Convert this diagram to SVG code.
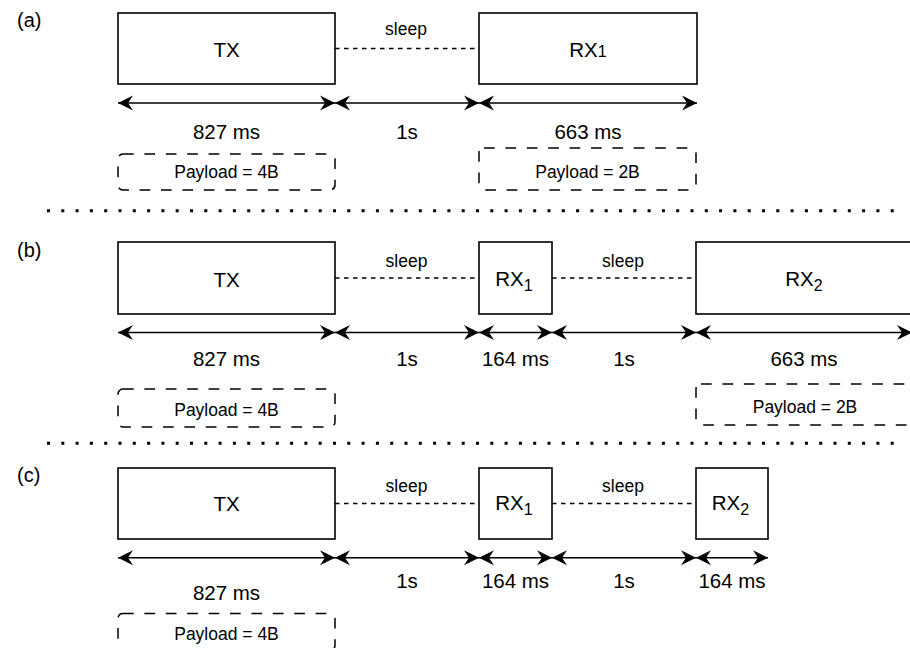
<svg xmlns="http://www.w3.org/2000/svg" width="910" height="648" viewBox="0 0 910 648">
<style>
.box{fill:#fff;stroke:#000;stroke-width:1.6}
.pay{fill:none;stroke:#000;stroke-width:1.5;stroke-dasharray:10.7 10.7}
.arr{stroke:#000;stroke-width:1.6;fill:none;marker-start:url(#ah);marker-end:url(#ah)}
.slp{stroke:#000;stroke-width:1.4;stroke-dasharray:4.5 4.5;fill:none}
.sep{stroke:#000;stroke-width:3;stroke-dasharray:3 11.3;fill:none}
text{font-family:"Liberation Sans",Arial,sans-serif;fill:#000}
.big{font-size:20.5px;text-anchor:middle}
.mid{font-size:17.5px;text-anchor:middle}
.lbl{font-size:20px}
</style>
<defs>
<marker id="ah" viewBox="-16 -8 17 16" refX="0" refY="0" markerWidth="17" markerHeight="16" markerUnits="userSpaceOnUse" orient="auto-start-reverse">
<path d="M0,0 L-15,-7.5 L-10,0 L-15,7.5 Z" fill="#000"/>
</marker>
</defs>

<!-- separators -->
<line class="sep" x1="47" y1="210.7" x2="905" y2="210.7"/>
<line class="sep" x1="47" y1="443.3" x2="905" y2="443.3"/>

<text class="lbl" x="17" y="27">(a)</text>
<text class="lbl" x="17" y="257">(b)</text>
<text class="lbl" x="17" y="482">(c)</text>

<!-- (a) -->
<g id="a-tx"><rect class="box" x="118" y="13" width="217" height="71"/><text class="big" x="226.5" y="57">TX</text></g>
<g id="a-rx1"><rect class="box" x="479" y="13" width="218" height="71"/><text class="big" x="588" y="57">RX<tspan font-size="16">1</tspan></text></g>
<g id="a-pay1"><rect class="pay" x="118" y="154" width="217" height="36" rx="5"/><text class="mid" x="226.5" y="178">Payload = 4B</text></g>
<g id="a-pay2"><rect class="pay" x="479" y="148" width="217" height="42" rx="5"/><text class="mid" x="587.5" y="178">Payload = 2B</text></g>
<text class="mid" x="406" y="35">sleep</text>
<text class="big" x="226.5" y="138.7">827 ms</text>
<text class="big" x="407" y="138.7">1s</text>
<text class="big" x="588" y="138.7">663 ms</text>

<!-- (b) -->
<g id="b-tx"><rect class="box" x="118" y="242" width="217" height="72"/><text class="big" x="226.5" y="287">TX</text></g>
<g id="b-rx1"><rect class="box" x="479" y="242" width="73" height="72"/><text class="big" x="514" y="285.5">RX<tspan font-size="16" dy="5">1</tspan></text></g>
<g id="b-rx2"><rect class="box" x="696" y="242" width="218" height="72"/><text class="big" x="804" y="285.5">RX<tspan font-size="16" dy="5">2</tspan></text></g>
<g id="b-pay1"><rect class="pay" x="118" y="389" width="217" height="38" rx="5"/><text class="mid" x="226.5" y="416">Payload = 4B</text></g>
<g id="b-pay2"><rect class="pay" x="696" y="384" width="218" height="41" rx="5"/><text class="mid" x="805" y="412.7">Payload = 2B</text></g>
<text class="mid" x="406.5" y="267">sleep</text>
<text class="mid" x="623" y="267">sleep</text>
<text class="big" x="226.5" y="366.2">827 ms</text>
<text class="big" x="407" y="366.2">1s</text>
<text class="big" x="515.5" y="366.2">164 ms</text>
<text class="big" x="624" y="366.2">1s</text>
<text class="big" x="804" y="366.2">663 ms</text>

<!-- (c) -->
<g id="c-tx"><rect class="box" x="118" y="468" width="217" height="71"/><text class="big" x="226.5" y="510.5">TX</text></g>
<g id="c-rx1"><rect class="box" x="479" y="468" width="73" height="71"/><text class="big" x="514" y="510">RX<tspan font-size="16" dy="5">1</tspan></text></g>
<g id="c-rx2"><rect class="box" x="696" y="468" width="72" height="71"/><text class="big" x="730.5" y="510">RX<tspan font-size="16" dy="5">2</tspan></text></g>
<g id="c-pay1"><rect class="pay" x="118" y="613.5" width="217" height="37" rx="5"/><text class="mid" x="226.5" y="640">Payload = 4B</text></g>
<text class="mid" x="406.5" y="492">sleep</text>
<text class="mid" x="623" y="492">sleep</text>
<text class="big" x="226.5" y="600.2">827 ms</text>
<text class="big" x="407" y="588.2">1s</text>
<text class="big" x="515.5" y="588.2">164 ms</text>
<text class="big" x="624" y="588.2">1s</text>
<text class="big" x="732" y="588.2">164 ms</text>

<g id="connectors">
<line class="slp" x1="335" y1="48.5" x2="479" y2="48.5"/>
<line class="arr" x1="118" y1="103" x2="335" y2="103"/>
<line class="arr" x1="335" y1="103" x2="479" y2="103"/>
<line class="arr" x1="479" y1="103" x2="697" y2="103"/>

<line class="slp" x1="335" y1="278" x2="479" y2="278"/>
<line class="slp" x1="552" y1="278" x2="696" y2="278"/>
<line class="arr" x1="118" y1="332.5" x2="335" y2="332.5"/>
<line class="arr" x1="335" y1="332.5" x2="479" y2="332.5"/>
<line class="arr" x1="479" y1="332.5" x2="552" y2="332.5"/>
<line class="arr" x1="552" y1="332.5" x2="696" y2="332.5"/>
<line class="arr" x1="696" y1="332.5" x2="912" y2="332.5"/>

<line class="slp" x1="335" y1="503.5" x2="479" y2="503.5"/>
<line class="slp" x1="552" y1="503.5" x2="696" y2="503.5"/>
<line class="arr" x1="118" y1="557.7" x2="335" y2="557.7"/>
<line class="arr" x1="335" y1="557.7" x2="479" y2="557.7"/>
<line class="arr" x1="479" y1="557.7" x2="552" y2="557.7"/>
<line class="arr" x1="552" y1="557.7" x2="696" y2="557.7"/>
<line class="arr" x1="696" y1="557.7" x2="768" y2="557.7"/>
</g>
</svg>
